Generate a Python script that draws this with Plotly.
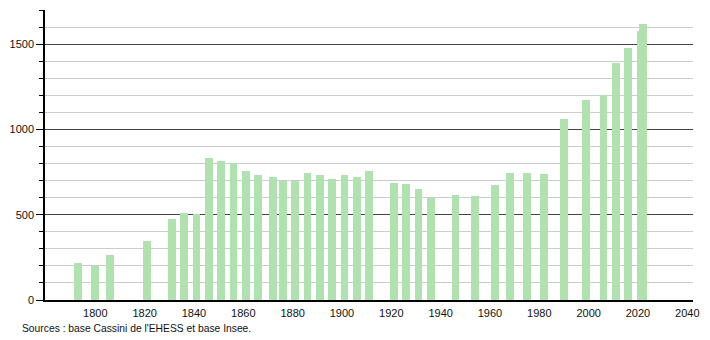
import plotly.graph_objects as go

years = [1793, 1800, 1806, 1821, 1831, 1836, 1841, 1846, 1851, 1856, 1861, 1866,
         1872, 1876, 1881, 1886, 1891, 1896, 1901, 1906, 1911, 1921, 1926, 1931,
         1936, 1946, 1954, 1962, 1968, 1975, 1982, 1990, 1999, 2006, 2011, 2016,
         2021, 2022]
population = [216, 200, 265, 343, 476, 512, 506, 830, 812, 804, 755, 735,
              723, 700, 700, 747, 733, 712, 735, 723, 757, 688, 682, 653,
              596, 618, 612, 676, 747, 747, 737, 1063, 1171, 1202, 1388, 1480,
              1576, 1618]

x_ticks = [1800, 1820, 1840, 1860, 1880, 1900, 1920, 1940, 1960, 1980, 2000, 2020, 2040]
y_ticks = [0, 500, 1000, 1500]
source_text = "Sources : base Cassini de l'EHESS et base Insee."

fig = go.Figure()
fig.add_trace(go.Bar(
    x=years, y=population, width=3.2,
    marker=dict(color="rgb(176,226,176)", line=dict(width=0)),
    hoverinfo="x+y",
))

fig.update_layout(
    width=710, height=340,
    margin=dict(l=44, r=10, t=10, b=40),
    plot_bgcolor="white", paper_bgcolor="white",
    font=dict(family="Liberation Sans, Arial, sans-serif", size=11, color="#111"),
    showlegend=False,
    bargap=0,
    annotations=[dict(
        text=source_text, xref="paper", yref="paper", x=-0.038, y=-0.074,
        xanchor="left", yanchor="top", showarrow=False,
        font=dict(size=10.3, color="#111"),
    )],
)

fig.update_xaxes(
    range=[1779.6, 2042.3],
    tickmode="array", tickvals=x_ticks, ticktext=[str(v) for v in x_ticks],
    showgrid=False, zeroline=False,
    showline=True, linecolor="black", linewidth=1.5,
    ticks="", ticklabelstandoff=2,
)

fig.update_yaxes(
    range=[0, 1700],
    tickmode="array", tickvals=y_ticks, ticktext=[str(v) for v in y_ticks],
    showgrid=True, gridcolor="#444", gridwidth=1,
    zeroline=False,
    showline=True, linecolor="black", linewidth=1.5,
    ticks="outside", ticklen=7, tickcolor="black", tickwidth=1,
    minor=dict(dtick=100, showgrid=True, gridcolor="#cccccc", gridwidth=1,
               ticks="outside", ticklen=4, tickcolor="black"),
)

fig.write_html("out.html")
